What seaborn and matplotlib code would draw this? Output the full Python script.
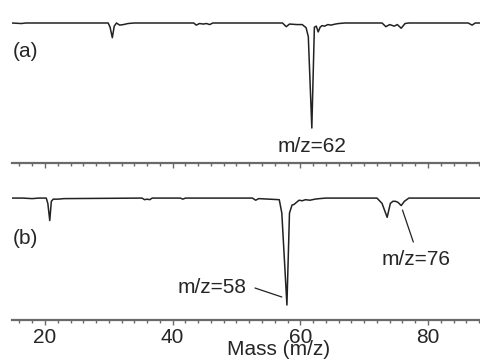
import numpy as np
import pandas as pd
import seaborn as sns
import matplotlib.pyplot as plt
from matplotlib.ticker import MultipleLocator

# spectrum (a): mass and signal (baseline 0, strongest dip -100)
mass_a = [14.8, 16.3, 17.0, 29.9, 30.2, 30.55, 30.85, 31.2, 31.7, 32.3, 33.0, 34.0,
          43.3, 43.7, 44.2, 44.8, 45.3, 45.8, 46.3, 57.2, 57.8, 58.3, 59.5, 60.3,
          60.9, 61.25, 61.8, 62.2, 62.5, 62.8, 63.1, 63.4, 63.8, 64.3, 64.8, 65.5,
          66.0, 67.0, 72.8, 73.4, 74.0, 74.7, 75.2, 75.8, 76.4, 77.0, 86.3, 86.9,
          87.4, 88.3]
signal_a = [0, -0.5, 0, 0, -4, -14, -3, 0, -2, -1.5, -0.5, 0,
            0, -2, -0.5, -1, -0.5, -1.5, 0, 0, -3.5, -1, -1.5, -1.5,
            -4.5, -13, -100, -4, -3, -8.5, -4, -2.5, -3, -1.5, -2, -1,
            -0.5, 0, 0, -3.5, -1.5, -3, -1.5, -5, -0.5, 0, 0, -2,
            0, 0]

# spectrum (b)
mass_b = [14.8, 16.5, 18.0, 19.0, 20.2, 20.45, 20.75, 21.0, 21.3, 22.0, 23.0,
          35.2, 35.6, 36.0, 36.4, 36.8, 41.2, 41.6, 42.0, 52.5, 53.0, 53.5,
          56.7, 57.1, 57.9, 58.3, 58.7, 59.0, 59.3, 59.8, 60.3, 60.8, 61.5,
          62.3, 63.0, 64.0, 72.0, 72.8, 73.6, 74.1, 74.5, 74.9, 75.3, 75.8,
          76.3, 77.0, 88.3]
signal_b = [0, 0, -0.5, 0, 0, -5, -21, -3, -1, -1, -0.5,
            0, -1.5, -1, -1.5, 0, 0, -1, 0, 0, -2, -0.5,
            -1.5, -14, -100, -14, -6.5, -6, -4.5, -2, -2.5, -1.5, -2,
            -1, -0.5, 0, 0, -5, -18, -5, -3, -3, -4, -7,
            -3, 0, 0]

tick_labels = ["20", "40", "60", "80"]
tick_values = [20, 40, 60, 80]

df_a = pd.DataFrame({"mass": mass_a, "signal": signal_a})
df_b = pd.DataFrame({"mass": mass_b, "signal": signal_b})

sns.set_style("white")
plt.rcParams['font.family'] = ['Liberation Sans', 'DejaVu Sans']

fig = plt.figure(figsize=(4.81, 3.63), dpi=100)
ax_a = fig.add_axes([0.025, 0.551, 0.975, 0.449])
ax_b = fig.add_axes([0.025, 0.1185, 0.975, 0.413])

line_color = '#222222'
spine_color = '#6a6a6a'

for ax, df in [(ax_a, df_a), (ax_b, df_b)]:
    sns.lineplot(data=df, x="mass", y="signal", ax=ax, color=line_color,
                 lw=1.1, estimator=None, sort=False)
    ax.set_xlim(14.84, 88.3)
    for side in ["top", "left", "right"]:
        ax.spines[side].set_visible(False)
    ax.spines["bottom"].set_color(spine_color)
    ax.spines["bottom"].set_linewidth(1.6)
    ax.set_yticks([])
    ax.set_ylabel("")
    ax.set_xlabel("")
    ax.xaxis.set_major_locator(MultipleLocator(20))
    ax.xaxis.set_minor_locator(MultipleLocator(2))
    ax.tick_params(axis='x', which='major', direction='out', length=3.5,
                   width=1.0, color=spine_color, labelsize=15, pad=2,
                   bottom=True)
    ax.tick_params(axis='x', which='minor', direction='out', length=2,
                   width=1.0, color=spine_color, bottom=True)

ax_a.set_ylim(-133.3, 21.9)
ax_b.set_ylim(-114, 26.2)
ax_a.tick_params(axis='x', labelbottom=False)
ax_b.set_xticks(tick_values)
ax_b.set_xticklabels(tick_labels)

ax_b.set_xlabel("Mass (m/z)", fontsize=15)
ax_b.xaxis.set_label_coords(0.569, -0.135)

# panel labels and annotations
ax_a.text(15.0, -26.7, "(a)", fontsize=15, ha='left', va='center')
ax_a.text(61.8, -118, "m/z=62", fontsize=15, ha='center', va='center')

ax_b.text(15.0, -37.4, "(b)", fontsize=15, ha='left', va='center')
ax_b.text(46.1, -83.2, "m/z=58", fontsize=15, ha='center', va='center')
ax_b.plot([52.9, 57.1], [-84.1, -92.5], color=line_color, lw=0.9)
ax_b.text(78.2, -57.9, "m/z=76", fontsize=15, ha='center', va='center')
ax_b.plot([76.0, 77.7], [-11.2, -41.1], color=line_color, lw=0.9)

fig.savefig("out.png", dpi=100)
